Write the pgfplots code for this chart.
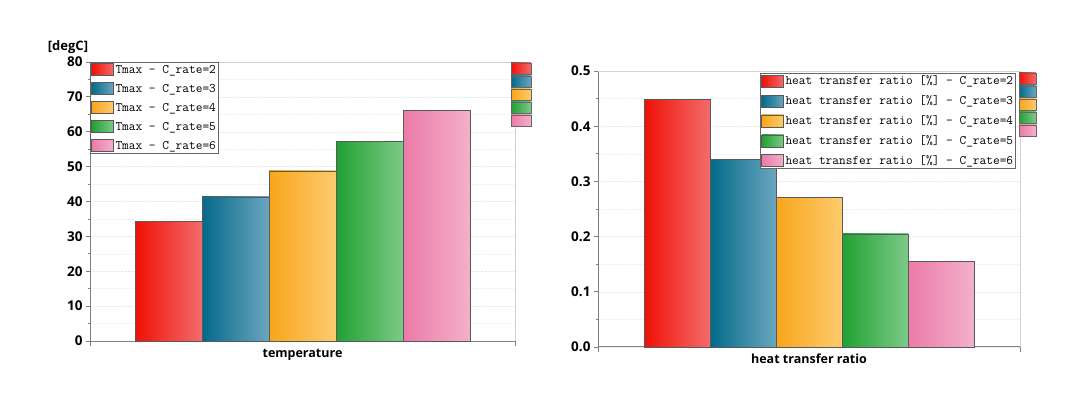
\documentclass[border=0pt]{standalone}
\usepackage{pgfplots}
\pgfplotsset{compat=1.18}
\usepackage{fontspec}
\setmainfont{Open Sans}
\definecolor{rA}{HTML}{EE1106}\definecolor{rB}{HTML}{F46B6B}
\definecolor{bA}{HTML}{036A8A}\definecolor{bB}{HTML}{6BA6BE}
\definecolor{oA}{HTML}{F8A51B}\definecolor{oB}{HTML}{FDCB6E}
\definecolor{gA}{HTML}{21A132}\definecolor{gB}{HTML}{7CCA87}
\definecolor{pA}{HTML}{EC7BA7}\definecolor{pB}{HTML}{F3B0CB}
\pgfplotsset{
  mybar/.style 2 args={draw=black!65, line width=0.6pt, left color=#1, right color=#2},
  mylegend/.style={legend image code/.code={\draw[##1] (0pt,-6pt) rectangle (22pt,6pt);}},
  common/.style={
    scale only axis, enlargelimits=false, xmin=-0.5, xmax=0.5, ymin=0,
    clip=false,
    xtick=\empty,
    extra x ticks={-0.5,0.5}, extra x tick labels={},
    extra x tick style={major tick length=5pt, tick align=outside, grid=none},
    axis x line*=bottom, axis y line*=left, ytick pos=left,
    tick align=outside, major tick length=4pt, minor tick length=2.5pt,
    minor y tick num=1, grid=both,
    major grid style={densely dotted, black!9},
    minor grid style={densely dotted, black!6},
    axis line style={black!50, line width=1pt},
    tick style={black!50, line width=0.8pt},
    tick label style={font=\fontsize{13.5}{15}\selectfont\bfseries},
    /pgf/number format/assume math mode=true,
    label style={font=\fontsize{12.5}{14}\selectfont\bfseries},
    ybar=0pt,
    every axis plot post/.append style={mylegend},
    legend cell align=left,
    legend style={draw=black!60, line width=0.8pt, fill=white,
      font=\ttfamily\fontsize{13}{15}\selectfont, inner sep=1pt, row sep=6.4pt,
      nodes={inner sep=1.5pt}},
  }
}
\begin{document}
\begin{tikzpicture}
\useasboundingbox (0,0) rectangle (1080pt,418pt);
\begin{axis}[common, at={(90pt,77pt)}, anchor=south west,
  width=425pt, height=279pt, ymax=80, ytick={0,10,...,80},
  bar width=67pt,
  xlabel={temperature},
  xlabel style={at={(axis description cs:0.5,0)}, anchor=center, yshift=-14pt},
  legend style={at={(0,1)}, anchor=north west}]
\addplot[mybar={rA}{rB}] coordinates {(0,34.2)};
\addplot[mybar={bA}{bB}] coordinates {(0,41.3)};
\addplot[mybar={oA}{oB}] coordinates {(0,48.8)};
\addplot[mybar={gA}{gB}] coordinates {(0,57.3)};
\addplot[mybar={pA}{pB}] coordinates {(0,66.1)};
\legend{Tmax - C\_rate=2, Tmax - C\_rate=3, Tmax - C\_rate=4, Tmax - C\_rate=5, Tmax - C\_rate=6}
\draw[black!18, line width=0.8pt] (rel axis cs:0,1) -- (rel axis cs:1,1) -- (rel axis cs:1,0);
\node[font=\fontsize{13}{14}\selectfont\bfseries, xshift=-22pt, yshift=15pt] at (rel axis cs:0,1) {[degC]};
\end{axis}
\begin{axis}[common, at={(598pt,71pt)}, anchor=south west,
  width=422pt, height=276pt, ymax=0.5, ytick={0,0.1,...,0.5},
  yticklabel style={/pgf/number format/.cd, fixed, fixed zerofill, precision=1},
  bar width=66pt,
  xlabel={heat transfer ratio},
  xlabel style={at={(axis description cs:0.5,0)}, anchor=center, yshift=-12pt},
  legend style={at={(0.384,0.993)}, anchor=north west}]
\addplot[mybar={rA}{rB}] coordinates {(0,0.449)};
\addplot[mybar={bA}{bB}] coordinates {(0,0.340)};
\addplot[mybar={oA}{oB}] coordinates {(0,0.271)};
\addplot[mybar={gA}{gB}] coordinates {(0,0.205)};
\addplot[mybar={pA}{pB}] coordinates {(0,0.155)};
\legend{heat transfer ratio [\%] - C\_rate=2, heat transfer ratio [\%] - C\_rate=3, heat transfer ratio [\%] - C\_rate=4, heat transfer ratio [\%] - C\_rate=5, heat transfer ratio [\%] - C\_rate=6}
\draw[black!18, line width=0.8pt] (rel axis cs:0,1) -- (rel axis cs:1,1) -- (rel axis cs:1,0);
\end{axis}
\foreach \c/\i in {r/0,b/1,o/2,g/3,p/4}{
  \draw[black!60, line width=0.6pt, left color=\c A, right color=\c B]
    (511pt,{(418-63-13*\i)*1pt}) rectangle (531pt,{(418-74-13*\i)*1pt});
  \draw[black!60, line width=0.6pt, left color=\c A, right color=\c B]
    (1019pt,{(418-73-13*\i)*1pt}) rectangle (1036pt,{(418-84-13*\i)*1pt});
}
\end{tikzpicture}
\end{document}
